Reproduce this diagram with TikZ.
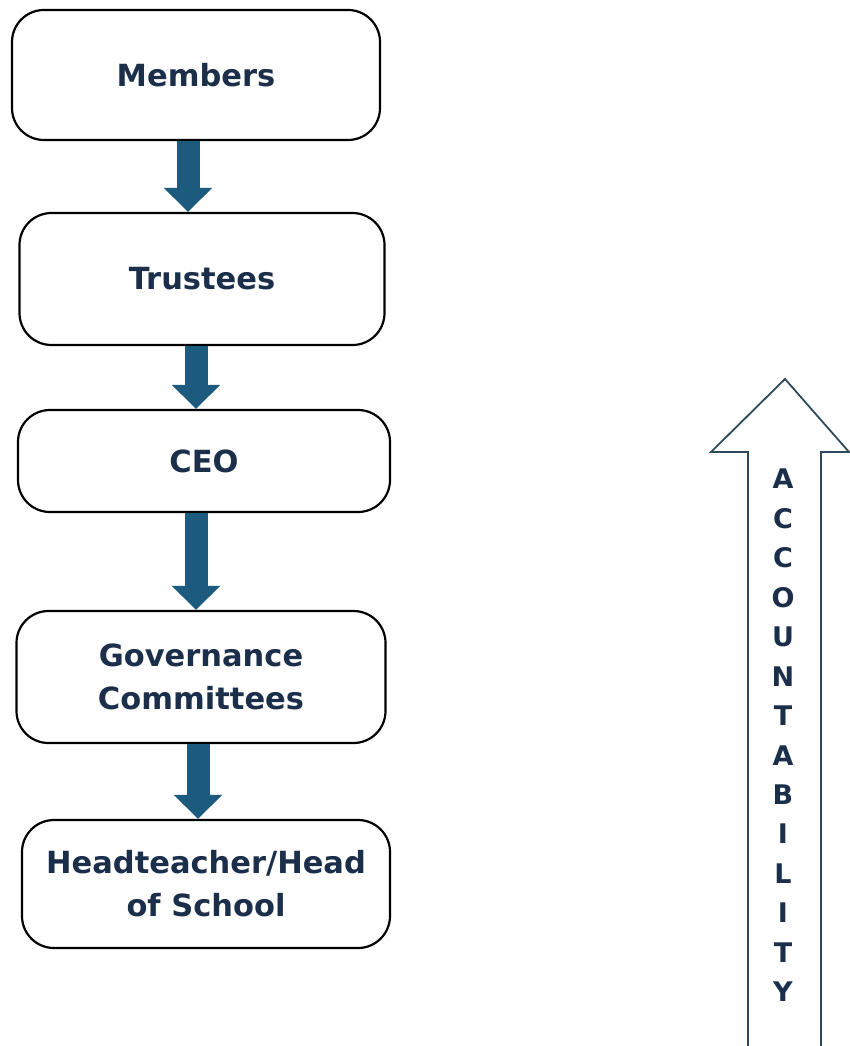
\documentclass[tikz,border=0pt]{standalone}
\usepackage{fontspec}
\setmainfont{DejaVu Sans}
\usetikzlibrary{arrows.meta}
\definecolor{navytext}{HTML}{1B2F4B}
\definecolor{flowblue}{HTML}{1D5B7E}
\definecolor{slateline}{HTML}{2F4A5A}
\tikzset{
    level/.style={draw=black,line width=2.2pt,rounded corners=32pt,fill=white,
        minimum width=368pt,align=center,text=navytext,
        font=\fontsize{30.5}{43}\selectfont\bfseries},
    flowarrow/.style={draw=flowblue,line width=23pt,
        -{Triangle[length=24pt,width=47pt]}}
}
\begin{document}
\begin{tikzpicture}[x=1pt,y=-1pt]
        \useasboundingbox (0,0) rectangle (850,1046);
        %% Levels
        \node[level,minimum height=130pt,anchor=center] (members) at (196,75) {Members};
        \node[level,minimum height=132pt,minimum width=365pt,anchor=center] (trustees) at (202,279) {Trustees};
        \node[level,minimum height=102pt,minimum width=372pt,anchor=center] (ceo) at (204,461) {CEO};
        \node[level,minimum height=132pt,minimum width=369pt,anchor=center] (govern) at (201,677) {Governance\\Committees};
        \node[level,minimum height=128pt,anchor=center] (head) at (206,884) {Headteacher/Head\\of School};
        %% Arrows between levels
        \coordinate (a1) at (188,0);
        \coordinate (a2) at (196,0);
        \coordinate (a3) at (196,0);
        \coordinate (a4) at (198,0);
        \draw[flowarrow] (members.south -| a1) -- (trustees.north -| a1);
        \draw[flowarrow] (trustees.south -| a2) -- (ceo.north -| a2);
        \draw[flowarrow] (ceo.south -| a3) -- (govern.north -| a3);
        \draw[flowarrow] (govern.south -| a4) -- (head.north -| a4);
        %% Accountability
        \draw[slateline,line width=1.8pt] (748,1046) -- (748,452) -- (711,452)
            -- (785,379) -- (849,452) -- (821,452) -- (821,1046);
        \foreach \l [count=\i] in {A,C,C,O,U,N,T,A,B,I,L,I,T,Y}
            \node[anchor=center,text=navytext,font=\fontsize{27}{27}\selectfont\bfseries]
                (acc\i) at (783,479+39.45*\i-39.45) {\l};
    \end{tikzpicture}
\end{document}
